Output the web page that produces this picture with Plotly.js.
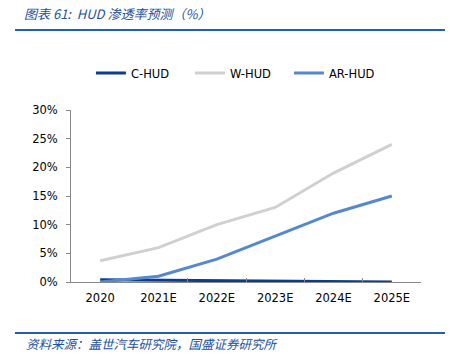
<!DOCTYPE html>
<html><head><meta charset="utf-8">
<script src="https://cdn.plot.ly/plotly-3.0.1.min.js"></script>
<style>html,body{margin:0;padding:0;background:#fff}#chart{width:450px;height:358px}</style>
</head><body><div id="chart"></div>
<script>
const categories = ['2020','2021E','2022E','2023E','2024E','2025E'];
const cHud = [0.4, 0.3, 0.2, 0.1, 0.05, 0.0];
const wHud = [3.7, 6.0, 10.0, 13.0, 19.0, 24.0];
const arHud = [0.0, 1.0, 4.0, 8.0, 12.0, 15.0];
const yTicks = [0,5,10,15,20,25,30];
const yTickLabels = yTicks.map(v => v + '%');

const font = "'DejaVu Sans', 'Noto Sans CJK SC', sans-serif";
const cjk = "'Noto Sans CJK SC', sans-serif";
const traces = [
  {x: categories, y: cHud, name: 'C-HUD', type: 'scatter', mode: 'lines', line: {color: '#0a3d8f', width: 3}},
  {x: categories, y: wHud, name: 'W-HUD', type: 'scatter', mode: 'lines', line: {color: '#d0d0d0', width: 3}},
  {x: categories, y: arHud, name: 'AR-HUD', type: 'scatter', mode: 'lines', line: {color: '#5588cc', width: 3}}
];
const layout = {
  width: 450, height: 358,
  margin: {l: 71, r: 29, t: 110, b: 76},
  paper_bgcolor: '#fff', plot_bgcolor: '#fff',
  font: {family: font, size: 11.5, color: '#000'},
  showlegend: true,
  legend: {orientation: 'h', x: 0.057, y: 1.215, xanchor: 'left', yanchor: 'middle',
    font: {family: font, size: 11.5, color: '#000'}, entrywidth: 54, entrywidthmode: 'pixels', tracegroupgap: 0},
  xaxis: {type: 'category', showgrid: false, zeroline: false, showline: true, linecolor: '#888', linewidth: 1,
    ticks: 'inside', ticklen: 4, tickcolor: '#888', tickson: 'boundaries', range: [-0.5, 5.5],
    ticklabelstandoff: 5, tickfont: {size: 11.5}},
  yaxis: {range: [0, 30], tickvals: yTicks, ticktext: yTickLabels, showgrid: false, zeroline: false,
    showline: true, linecolor: '#888', linewidth: 1, ticks: 'outside', ticklen: 4, tickcolor: '#888',
    ticklabelstandoff: 6, tickfont: {size: 11.5}},
  shapes: [
    {type: 'line', xref: 'paper', yref: 'paper', x0: -56/350, x1: 374/350, y0: (282-30)/172, y1: (282-30)/172, line: {color: '#1f5fbf', width: 2}},
    {type: 'line', xref: 'paper', yref: 'paper', x0: -56/350, x1: 374/350, y0: -(333-282)/172, y1: -(333-282)/172, line: {color: '#2a5ca8', width: 2}}
  ],
  annotations: [
    {xref: 'paper', yref: 'paper', x: -49/350, y: (282-14)/172, xanchor: 'left', yanchor: 'middle', showarrow: false,
     text: '<i>图表 61:  HUD 渗透率预测（%）</i>', font: {family: cjk, size: 13, color: '#2050a0'}},
    {xref: 'paper', yref: 'paper', x: -47/350, y: -(343-282)/172, xanchor: 'left', yanchor: 'middle', showarrow: false,
     text: '<i>资料来源：盖世汽车研究院，国盛证券研究所</i>', font: {family: cjk, size: 12.5, color: '#2050a0'}}
  ]
};
Plotly.newPlot('chart', traces, layout, {displayModeBar: false, staticPlot: true});
</script></body></html>
